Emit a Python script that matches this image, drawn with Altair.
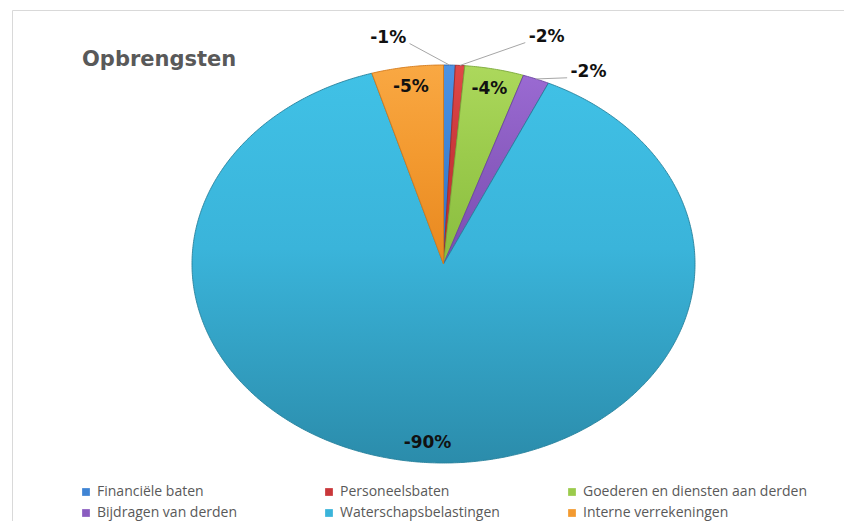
import math
import pandas as pd
import altair as alt

# ---------------- data ----------------
categories = [
    "Financiële baten",
    "Personeelsbaten",
    "Goederen en diensten aan derden",
    "Bijdragen van derden",
    "Waterschapsbelastingen",
    "Interne verrekeningen",
]
shares = [0.75, 0.6, 3.8, 1.7, 88.6, 4.6]          # share of total (%)
labels = ["-1%", "-2%", "-4%", "-2%", "-90%", "-5%"]  # data labels as shown

# ---------------- styles ----------------
colors = ["#3f84d4", "#c9373a", "#9bcb4c", "#8a5cc0", "#3ab4da", "#f39a30"]
grad_top = ["#4d93e4", "#e04848", "#acd85c", "#9a6ad2", "#40c1e6", "#f9a843"]
grad_bottom = ["#2f6ec0", "#b52f31", "#89bd3f", "#7a4db2", "#2b8cab", "#e8881f"]
edge = ["#2f65a8", "#9c2a2c", "#7aa83a", "#6a44a0", "#27819c", "#d47a1c"]
label_nudge_deg = [-12.3, 16.0, 0.0, 9.3, 0.0, 0.0]   # label placement (Excel-like)
label_radius = [1.157, 1.212, 0.9, 1.123, 0.9, 0.9]

W, H = 832, 511
XDOM = [-1.7157, 1.5924]
YDOM = [-1.2915, 1.2764]

total = sum(shares)
cum = 0.0
poly_rows, lab_rows, lead_rows = [], [], []
for i, (cat, s) in enumerate(zip(categories, shares)):
    a0 = cum / total * 360.0
    cum += s
    a1 = cum / total * 360.0
    n = max(3, int(math.ceil((a1 - a0) / 0.5)) + 1)
    poly_rows.append({"cat": cat, "i": 0, "x": 0.0, "y": 0.0})
    for k in range(n):
        a = math.radians(a0 + (a1 - a0) * k / (n - 1))
        poly_rows.append({"cat": cat, "i": k + 1, "x": math.sin(a), "y": math.cos(a)})
    mid = (a0 + a1) / 2.0
    la = math.radians(mid + label_nudge_deg[i])
    r = label_radius[i]
    lx, ly = r * math.sin(la), r * math.cos(la)
    lab_rows.append({"cat": cat, "label": labels[i], "x": lx, "y": ly})
    if r > 1.0:
        sx, sy = math.sin(math.radians(mid)), math.cos(math.radians(mid))
        ex = lx - math.copysign(0.085, lx - sx)
        ey = ly - 0.028
        lead_rows.append({"cat": cat, "x": sx, "y": sy, "x2": ex, "y2": ey})

poly = pd.DataFrame(poly_rows)
labs = pd.DataFrame(lab_rows)
leads = pd.DataFrame(lead_rows)
legend_df = pd.DataFrame({"cat": categories, "x": [0.0] * 6, "y": [0.0] * 6})

xs = alt.Scale(domain=XDOM, nice=False, zero=False)
ys = alt.Scale(domain=YDOM, nice=False, zero=False)

layers = []
for i, cat in enumerate(categories):
    grad = alt.LinearGradient(
        gradient="linear",
        stops=[alt.GradientStop(color=grad_top[i], offset=0),
               alt.GradientStop(color=colors[i], offset=0.45),
               alt.GradientStop(color=grad_bottom[i], offset=1)],
        x1=0, x2=0, y1=0, y2=1,
    )
    layers.append(
        alt.Chart(poly).transform_filter(alt.datum.cat == cat)
        .mark_line(fill=grad, stroke=edge[i], strokeWidth=0.9,
                   interpolate="linear-closed", strokeJoin="round")
        .encode(x=alt.X("x:Q", scale=xs, axis=None),
                y=alt.Y("y:Q", scale=ys, axis=None),
                order=alt.Order("i:Q"))
    )

leaders = alt.Chart(leads).mark_rule(color="#a6a6a6", strokeWidth=1).encode(
    x=alt.X("x:Q", scale=xs, axis=None), y=alt.Y("y:Q", scale=ys, axis=None),
    x2="x2:Q", y2="y2:Q")

texts = alt.Chart(labs).mark_text(
    font="DejaVu Sans", fontWeight="bold", fontSize=17, color="#111111",
    align="center", baseline="middle").encode(
    x=alt.X("x:Q", scale=xs, axis=None), y=alt.Y("y:Q", scale=ys, axis=None),
    text="label:N")

legend_pts = alt.Chart(legend_df).mark_point(
    shape="square", filled=True, opacity=0, size=10).encode(
    x=alt.X("x:Q", scale=xs, axis=None), y=alt.Y("y:Q", scale=ys, axis=None),
    color=alt.Color("cat:N", scale=alt.Scale(domain=categories, range=colors),
                    sort=categories,
                    legend=alt.Legend(
                        title=None, orient="none", legendX=67, legendY=475,
                        direction="horizontal", columns=3, gridAlign="all",
                        columnPadding=0, rowPadding=7, padding=0,
                        symbolType="square", symbolSize=60, symbolOpacity=1,
                        symbolStrokeWidth=0, symbolOffset=0, labelOffset=4,
                        labelFont="Open Sans", labelFontSize=14,
                        labelColor="#595959", labelLimit=400)))

chart = alt.layer(*layers, leaders, texts, legend_pts).properties(
    width=W, height=H,
    autosize="none",
    padding={"left": 4, "top": 2, "right": 0, "bottom": 0},
    title=alt.TitleParams(
        "Opbrengsten", anchor="start", frame="group", offset=0,
        dx=70, dy=77, baseline="alphabetic",
        font="DejaVu Sans", fontWeight="bold", fontSize=21, color="#595959"),
).configure_view(stroke="#d9d9d9", strokeWidth=1)

chart.save("out.html", embed_options={"renderer": "svg", "actions": False})
